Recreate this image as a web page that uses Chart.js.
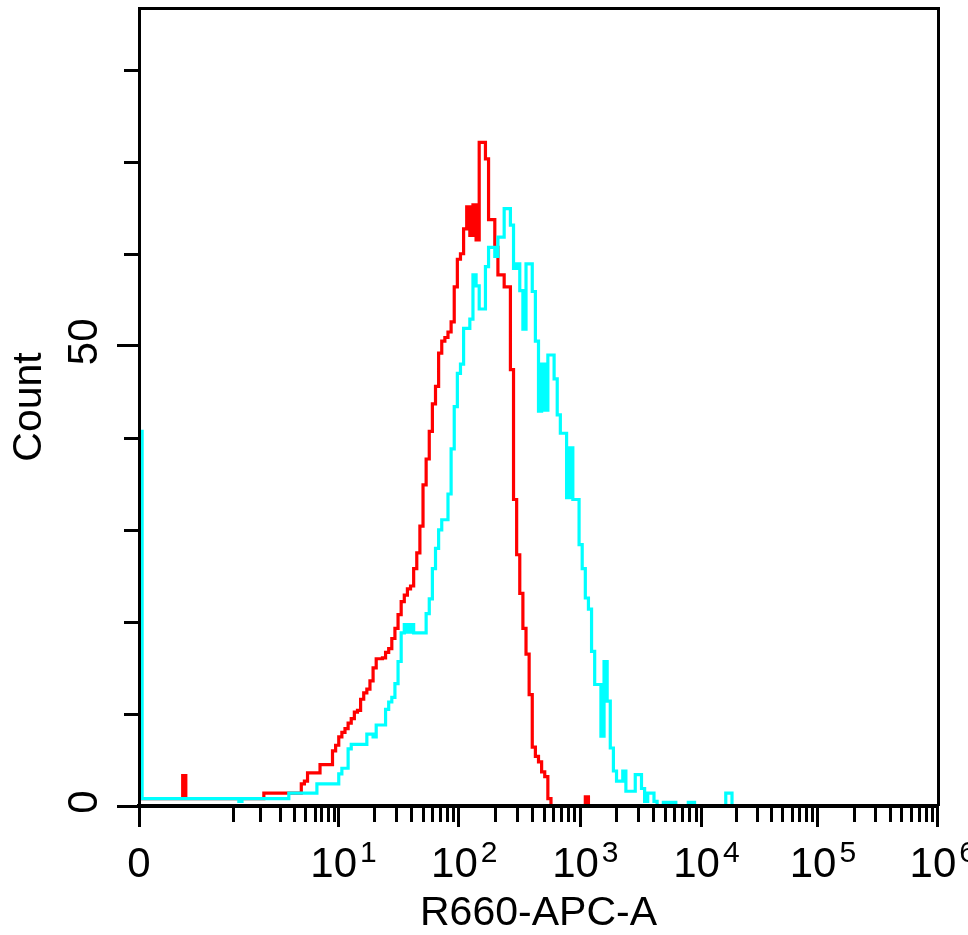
<!DOCTYPE html>
<html>
<head>
<meta charset="utf-8">
<script src="https://cdn.jsdelivr.net/npm/chart.js@4.4.1/dist/chart.umd.min.js"></script>
<style>
  html, body { margin: 0; padding: 0; background: #fff; }
  canvas { display: block; }
</style>
</head>
<body>
<canvas id="histo" width="968" height="935"></canvas>
<script>
// counts per display channel (256 channels across the axis)
var redCounts = [
  0.8,0.8,0.8,0.8,0.8,0.8,0.8,0.8,0.8,0.8,
  0.8,0.8,0.8,0.8,3.3,0.8,0.8,0.8,0.8,0.8,
  0.8,0.8,0.8,0.8,0.8,0.8,0.8,0.8,0.8,0.8,
  0.8,0.8,0.8,0.8,0.8,0.8,0.8,0.8,0.8,0.8,
  1.4,1.4,1.4,1.4,1.4,1.4,1.4,1.4,1.4,1.4,
  1.4,1.4,2.4,2.7,3.6,3.6,3.6,3.6,4.5,4.5,
  4.5,4.5,6.0,6.6,7.5,8.0,8.4,9.0,9.5,10.2,
  10.4,11.6,12.3,12.7,13.6,15.0,16.0,16.0,16.1,16.7,
  17.1,18.2,19.3,20.8,22.2,22.9,23.6,23.9,25.8,27.5,
  30.4,34.9,37.7,40.7,43.7,45.6,49.2,50.5,50.9,51.5,
  52.6,56.4,59.4,60.0,62.7,65.1,62.0,65.3,61.5,72.1,
  72.1,70.3,63.7,63.7,60.7,57.7,57.7,56.4,56.4,47.4,
  33.3,27.3,23.1,19.3,16.5,12.1,6.4,5.4,4.8,3.7,
  3.2,0.8,0,0,0,0,0,0,0,0,
  0,0,0,1.0
];
var cyanCounts = [
  40.7,0.8,0.8,0.8,0.8,0.8,0.8,0.8,0.8,0.8,
  0.8,0.8,0.8,0.8,0.8,0.8,0.8,0.8,0.8,0.8,
  0.8,0.8,0.8,0.8,0.8,0.8,0.8,0.8,0.8,0.8,
  0.8,0.8,0.5,0.8,0.8,0.8,0.8,0.8,0.8,0.8,
  0.8,0.8,0.8,0.8,0.8,0.8,0.8,0.8,1.4,1.4,
  1.4,1.4,1.4,1.4,1.4,1.4,1.4,2.4,2.4,2.4,
  2.4,2.4,2.4,2.4,3.5,4.1,4.1,6.2,6.7,6.7,
  6.7,6.7,6.7,7.8,7.8,7.5,8.8,8.8,8.8,10.5,
  11.3,11.8,13.3,15.7,18.8,19.7,18.9,19.7,18.8,18.8,
  18.8,18.8,20.9,22.5,25.8,28.0,30.0,31.1,31.1,33.9,
  38.8,43.4,47.0,48.0,51.9,51.9,52.9,57.7,56.5,54.0,
  54.0,58.6,60.7,60.7,59.7,61.8,61.8,64.9,64.9,63.1,
  58.4,58.9,56.0,51.8,58.9,58.9,55.9,50.5,42.9,48.0,
  43.0,49.0,49.0,46.4,42.5,40.5,40.5,33.5,38.9,33.3,
  33.3,28.4,25.8,22.6,21.4,16.8,13.2,13.2,7.6,15.7,
  11.4,6.3,3.8,2.7,2.7,3.8,1.6,1.6,1.6,3.4,
  3.4,1.9,0.5,1.4,1.4,0.5,0,0,0.4,0.4,
  0.4,0.4,0,0,0,0,0.4,0.4,0,0,
  0,0,0,0,0,0,0,0,1.4,1.4
];

var nChannels = 256;
var countMax = 86.7;

// x axis: decade ticks (channel position, base, exponent) and the ticks between 0 and 10^1
var xMajorPos = [0, 63.8, 102.5, 141.3, 180.1, 217.4, 255.8];
var xMajorBase = ['0', '10', '10', '10', '10', '10', '10'];
var xMajorExp = ['', '1', '2', '3', '4', '5', '6'];
var xLowMinorPos = [29.96, 38.77, 45.18, 49.66, 53.19, 56.30, 58.31, 60.56, 62.32];

// y axis
var yMajorPos = [0, 50];
var yMajorLabels = ['0', '50'];
var yMinorPos = [10, 20, 30, 40, 60, 70, 80];

var FONT = '"Liberation Sans", Arial, sans-serif';

function toSteps(counts) {
  var pts = counts.map(function (c, i) { return { x: i, y: c }; });
  pts.push({ x: counts.length, y: 0 });
  pts.push({ x: nChannels, y: 0 });
  return pts;
}

// frame, minor ticks, decade labels with raised exponents, rotated y labels
var axisExtras = {
  id: 'axisExtras',
  afterDraw: function (chart) {
    var ctx = chart.ctx, a = chart.chartArea;
    var xs = chart.scales.x, ys = chart.scales.y;
    ctx.save();
    ctx.strokeStyle = '#000';
    ctx.lineWidth = 3;
    ctx.beginPath();
    ctx.moveTo(a.left, a.top + 0.5);
    ctx.lineTo(a.right + 0.5, a.top + 0.5);
    ctx.lineTo(a.right + 0.5, a.bottom);
    ctx.stroke();

    // minor x ticks
    var minors = xLowMinorPos.slice();
    for (var d = 1; d < xMajorPos.length - 1; d++) {
      var lo = xMajorPos[d], hi = xMajorPos[d + 1];
      for (var k = 2; k <= 9; k++) minors.push(lo + Math.log10(k) * (hi - lo));
    }
    ctx.beginPath();
    minors.forEach(function (v) {
      var px = Math.round(xs.getPixelForValue(v)) + 0.5;
      ctx.moveTo(px, a.bottom);
      ctx.lineTo(px, a.bottom + 16);
    });
    // minor y ticks
    yMinorPos.forEach(function (v) {
      var py = Math.round(ys.getPixelForValue(v)) + 0.5;
      ctx.moveTo(a.left - 15, py);
      ctx.lineTo(a.left, py);
    });
    ctx.stroke();

    ctx.fillStyle = '#000';
    ctx.textBaseline = 'alphabetic';
    var baseY = a.bottom + 71;
    xMajorPos.forEach(function (v, i) {
      var px = xs.getPixelForValue(v);
      ctx.font = '42px ' + FONT;
      if (!xMajorExp[i]) {
        ctx.textAlign = 'center';
        ctx.fillText(xMajorBase[i], px, baseY);
        return;
      }
      var cx = px - 4.5;
      var w = ctx.measureText(xMajorBase[i]).width;
      ctx.textAlign = 'center';
      ctx.fillText(xMajorBase[i], cx, baseY);
      ctx.font = '30px ' + FONT;
      ctx.textAlign = 'left';
      ctx.fillText(xMajorExp[i], cx + w / 2 + 3, baseY - 15);
    });

    ctx.font = '42px ' + FONT;
    ctx.textAlign = 'center';
    ctx.textBaseline = 'middle';
    yMajorPos.forEach(function (v, i) {
      ctx.save();
      ctx.translate(a.left - 54, ys.getPixelForValue(v) - 4);
      ctx.rotate(-Math.PI / 2);
      ctx.fillText(yMajorLabels[i], 0, 0);
      ctx.restore();
    });
    ctx.restore();
  }
};

new Chart(document.getElementById('histo'), {
  type: 'line',
  data: {
    datasets: [
      {
        label: 'cyan',
        data: toSteps(cyanCounts),
        borderColor: '#00ffff',
        borderWidth: 3.2,
        stepped: true,
        pointRadius: 0,
        fill: false
      },
      {
        label: 'red',
        data: toSteps(redCounts),
        borderColor: '#ff0000',
        borderWidth: 3.2,
        stepped: true,
        pointRadius: 0,
        fill: false
      }
    ]
  },
  options: {
    responsive: false,
    animation: false,
    events: [],
    layout: { padding: { top: 8, right: 30, left: 0, bottom: 0 } },
    plugins: { legend: { display: false }, tooltip: { enabled: false } },
    scales: {
      x: {
        type: 'linear',
        min: 0,
        max: nChannels,
        border: { display: true, color: '#000', width: 4, z: 1 },
        grid: { drawOnChartArea: false, drawTicks: true, tickLength: 21, tickWidth: 3, tickColor: '#000' },
        ticks: { display: false },
        afterBuildTicks: function (s) {
          s.ticks = xMajorPos.map(function (v) { return { value: v }; });
        },
        afterFit: function (s) {
          s.height = 129;
          s.paddingLeft = 0;
          s.paddingRight = 0;
        },
        title: {
          display: true, text: 'R660-APC-A', color: '#000',
          font: { family: FONT, size: 41, lineHeight: 1 },
          padding: { top: 0, bottom: 1 }
        }
      },
      y: {
        type: 'linear',
        min: 0,
        max: countMax,
        border: { display: true, color: '#000', width: 3, z: 1 },
        grid: { drawOnChartArea: false, drawTicks: true, tickLength: 22, tickWidth: 3, tickColor: '#000' },
        ticks: { display: false },
        afterBuildTicks: function (s) {
          s.ticks = yMajorPos.map(function (v) { return { value: v }; });
        },
        afterFit: function (s) {
          s.width = 139;
          s.paddingTop = 0;
          s.paddingBottom = 0;
        },
        title: {
          display: true, text: 'Count', color: '#000',
          font: { family: FONT, size: 41, lineHeight: 1 },
          padding: { top: 9, bottom: 0 }
        }
      }
    }
  },
  plugins: [axisExtras]
});
</script>
</body>
</html>
